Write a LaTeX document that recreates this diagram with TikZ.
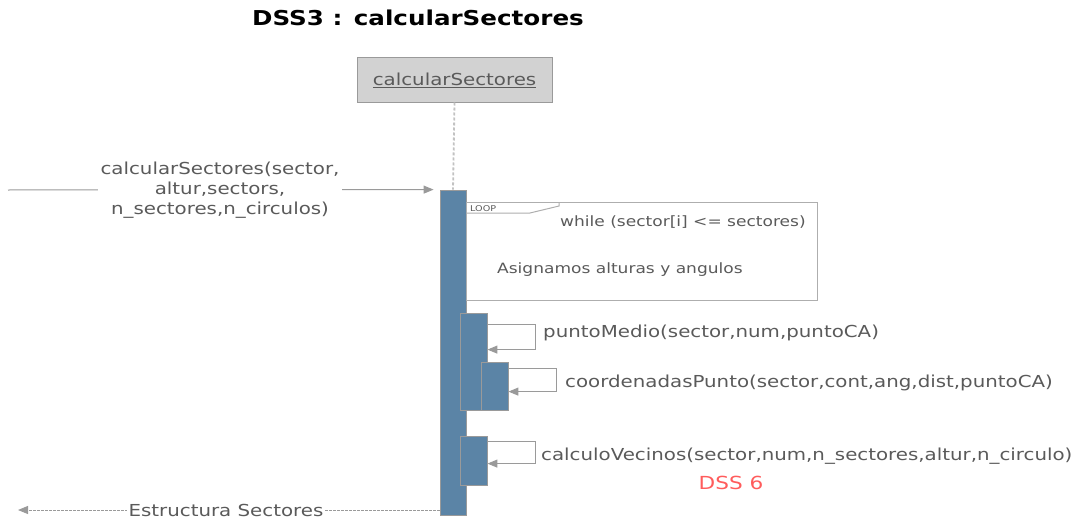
\documentclass[tikz,border=0pt]{standalone}
\usepackage{fontspec}
\setmainfont{DejaVu Sans}[FakeStretch=1.2]
\usetikzlibrary{arrows.meta,positioning}
\definecolor{actfill}{HTML}{5B84A6}
\definecolor{linegray}{HTML}{9A9A9A}
\definecolor{txtgray}{HTML}{5A5A5A}
\definecolor{objfill}{HTML}{D2D2D2}
\definecolor{dssred}{HTML}{FF5C5C}
\tikzset{
  actbar/.style={draw=linegray, fill=actfill, line width=0.8pt, inner sep=0pt, minimum width=26pt},
  msg/.style={draw=linegray, line width=1pt, -{Triangle[length=10pt,width=8pt]}},
  retmsg/.style={draw=linegray, line width=1pt, dash pattern=on 2.5pt off 1.5pt, -{Triangle[length=10pt,width=8pt]}},
  lbl/.style={text=txtgray, font=\fontsize{16.5}{20}\selectfont, inner sep=1pt},
  looplbl/.style={text=txtgray, font=\fontsize{14.2}{18}\selectfont, inner sep=1pt},
  lblbox/.style={lbl, fill=white, align=center, inner sep=3pt}
}
\begin{document}
\begin{tikzpicture}[x=1pt,y=-1pt]
\useasboundingbox (0,0) rectangle (1079,519);
% title
\node[font=\fontsize{20.5}{24}\selectfont\bfseries, text=black] (title) at (418,18) {DSS3 : calcularSectores};
% object
\node[draw=linegray, fill=objfill, line width=1pt, minimum width=195pt, minimum height=44pt, inner sep=0pt,
      text=txtgray, font=\fontsize{16.5}{20}\selectfont] (obj) at (454.5,80) {\underline{calcularSectores}};
% main activation
\node[actbar, minimum height=325pt] (act0) at (453,352.5) {};
\draw[linegray!60, line width=1.8pt, dash pattern=on 3pt off 2pt] (obj.south) -- (act0.north);
% incoming message
\coordinate (start) at (8,190);
\draw[msg] (start) -- ([xshift=-6pt]act0.north west);
\node[lblbox] (inlbl) at (220,190) {calcularSectores(sector,\\altur,sectors,\\n\_sectores,n\_circulos)};
% loop frame
\draw[linegray!80, line width=1pt] (466,202) rectangle (817,300);
\draw[linegray!80, line width=1pt] (466,213) -- (530,213) -- (559,206) -- (559,202);
\node[font=\fontsize{8}{9}\selectfont, text=txtgray, anchor=west, inner sep=0pt] (looptag) at (470,209) {LOOP};
\node[looplbl, anchor=west] (cond) at (559,222) {while (sector[i] <= sectores)};
\node[looplbl, anchor=west] (asig) at (496,270) {Asignamos alturas y angulos};
% nested activations
\node[actbar, minimum width=27pt, minimum height=97pt] (act1) at (473.5,361.5) {};
\node[actbar, minimum width=27pt, minimum height=48pt] (act2) at (494.5,386) {};
\node[actbar, minimum width=27pt, minimum height=49pt] (act3) at (473.5,460.5) {};
% self messages
\draw[msg] (act1.north east) ++(0,12) -- ++(48,0) -- ++(0,25) -- ++(-48,0);
\node[lbl, anchor=west] (m1) at (542,333) {puntoMedio(sector,num,puntoCA)};
\draw[msg] (act2.north east) ++(0,7) -- ++(48,0) -- ++(0,23) -- ++(-48,0);
\node[lbl, anchor=west] (m2) at (564,383) {coordenadasPunto(sector,cont,ang,dist,puntoCA)};
\draw[msg] (act3.north east) ++(0,6) -- ++(48,0) -- ++(0,22) -- ++(-48,0);
\node[lbl, anchor=west] (m3) at (540,456) {calculoVecinos(sector,num,n\_sectores,altur,n\_circulo)};
\node[text=dssred, font=\fontsize{18}{20}\selectfont, inner sep=0pt] (dss6) at (731,483) {DSS 6};
% return message
\coordinate (retend) at (18,510);
\draw[retmsg] (act0.south west |- retend) -- (retend);
\node[lblbox, inner sep=2pt] (retlbl) at (226,510) {Estructura Sectores};
\end{tikzpicture}
\end{document}
